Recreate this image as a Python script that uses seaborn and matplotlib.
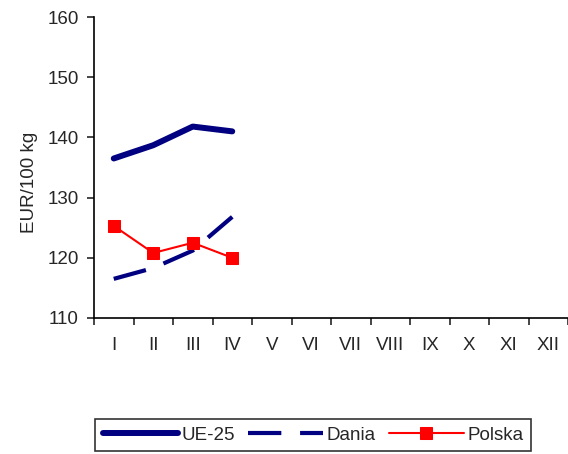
import numpy as np
import pandas as pd
import seaborn as sns
import matplotlib.pyplot as plt

months = ['I', 'II', 'III', 'IV', 'V', 'VI', 'VII', 'VIII', 'IX', 'X', 'XI', 'XII']
ue25 = [136.5, 138.7, 141.8, 141.0]
dania = [116.5, 118.3, 121.2, 126.8]
polska = [125.3, 120.8, 122.5, 120.0]

df = pd.DataFrame({'miesiac': range(len(ue25)), 'UE-25': ue25, 'Dania': dania, 'Polska': polska})

sns.set_style('white')
plt.rcParams['font.family'] = ['Liberation Sans', 'DejaVu Sans']
fs = 13.5

fig = plt.figure(figsize=(5.68, 4.54), dpi=100)
ax = fig.add_axes([94 / 568, 1 - 318 / 454, 474 / 568, 301 / 454])

sns.lineplot(data=df, x='miesiac', y='UE-25', ax=ax, color='#000080', lw=4.3,
             solid_capstyle='round', label='UE-25')
sns.lineplot(data=df, x='miesiac', y='Dania', ax=ax, color='#000080', lw=3.0,
             dashes=False, label='Dania')
ax.lines[-1].set_dashes((8, 4.5))
sns.lineplot(data=df, x='miesiac', y='Polska', ax=ax, color='#ff0000', lw=1.5,
             marker='s', markersize=8.5, markeredgecolor='#ff0000', label='Polska')

ax.set_xlim(-0.5, 11.5)
ax.set_ylim(110, 160)
ax.set_yticks(range(110, 161, 10))
ax.set_xticks(range(12))
ax.set_xticklabels(months)
ax.set_xticks(np.arange(-0.5, 12, 1), minor=True)
ax.tick_params(axis='x', which='major', length=0, pad=14, labelsize=fs)
ax.tick_params(axis='x', which='minor', length=5, width=1.2, direction='out', bottom=True)
ax.tick_params(axis='y', length=5, width=1.2, direction='out', left=True, labelsize=fs, pad=6)
ax.set_xlabel('')
ax.set_ylabel('EUR/100 kg', fontsize=fs)
ax.yaxis.set_label_coords(-0.118, 0.452)

for s in ['top', 'right']:
    ax.spines[s].set_visible(False)
for s in ['left', 'bottom']:
    ax.spines[s].set_color('black')
    ax.spines[s].set_linewidth(1.2)

handles, labels = ax.get_legend_handles_labels()
ax.get_legend().remove()
leg = fig.legend(handles, labels, ncol=3, loc='upper left',
                 bbox_to_anchor=(95 / 568, 1 - 419 / 454), frameon=True,
                 fancybox=False, edgecolor='black', handlelength=4.0,
                 handletextpad=0.2, columnspacing=0.7, borderpad=0.4,
                 borderaxespad=0, fontsize=fs)
leg.get_frame().set_linewidth(1.2)

fig.savefig('out.png', dpi=100)
